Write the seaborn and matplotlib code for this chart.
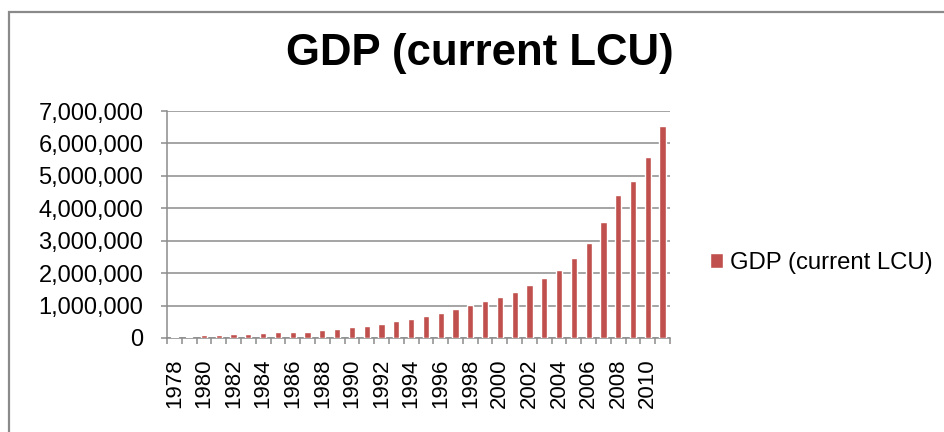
import numpy as np
import pandas as pd
import matplotlib
matplotlib.use("Agg")
import matplotlib.pyplot as plt
import seaborn as sns
from matplotlib.patches import Rectangle
from matplotlib.ticker import FuncFormatter, FixedLocator

# data
years = list(range(1978, 2012))
gdp = [41000, 44000, 82000, 86000, 123000, 125000, 154000, 195000, 198000, 200000,
       236000, 267000, 338000, 380000, 441000, 523000, 590000, 688000, 770000, 903000,
       1006000, 1129000, 1263000, 1417000, 1632000, 1848000, 2094000, 2453000, 2926000,
       3573000, 4404000, 4836000, 5585000, 6530000]
series_name = "GDP (current LCU)"
y_ticks = [0, 1000000, 2000000, 3000000, 4000000, 5000000, 6000000, 7000000]

df = pd.DataFrame({"year": [str(y) for y in years], "gdp": gdp})

sns.set_style("white")
plt.rcParams["font.family"] = ["Liberation Sans", "DejaVu Sans"]
plt.rcParams["text.color"] = "black"
plt.rcParams["xtick.labelcolor"] = "black"
plt.rcParams["ytick.labelcolor"] = "black"

fig = plt.figure(figsize=(9.44, 4.32), dpi=100)
ax = fig.add_axes([167 / 944, 1 - 338 / 432, (670 - 167) / 944, (338 - 111) / 432])

grid_col = "#8c8c8c"
sns.barplot(data=df, x="year", y="gdp", color="#C0504D", width=0.42,
            saturation=1, label=series_name, ax=ax, zorder=3)

ax.set_ylim(0, 7000000)
ax.set_xlim(-0.5, len(years) - 0.5)
ax.set_yticks(y_ticks)
ax.yaxis.set_major_formatter(FuncFormatter(lambda v, p: f"{int(v):,}"))
ax.yaxis.grid(True, color=grid_col, linewidth=1.1, zorder=0)
ax.set_axisbelow(True)

ax.set_xticks(range(0, len(years), 2))
ax.set_xticklabels([str(y) for y in years[::2]], rotation=90)
ax.xaxis.set_minor_locator(FixedLocator(np.arange(-0.5, len(years), 1.0)))

ax.tick_params(axis="y", which="major", length=4, width=1.1, color=grid_col,
               direction="out", pad=13, labelsize=17, left=True, labelcolor="black")
ax.tick_params(axis="x", which="major", length=0, pad=15, labelsize=16,
               labelcolor="black")
ax.tick_params(axis="x", which="minor", length=4, width=1.1, color=grid_col,
               direction="out", bottom=True)

for s in ["top", "right"]:
    ax.spines[s].set_visible(False)
for s in ["left", "bottom"]:
    ax.spines[s].set_color(grid_col)
    ax.spines[s].set_linewidth(1.1)

ax.set_xlabel("")
ax.set_ylabel("")

leg = ax.legend(loc="center left", bbox_to_anchor=(698 / 944, 1 - 263 / 432),
                bbox_transform=fig.transFigure, frameon=False, fontsize=17.2,
                handlelength=0.55, handleheight=0.55, handletextpad=0.3, borderpad=0)
for t in leg.get_texts():
    t.set_color("black")

fig.text(480 / 944, 1 - 65 / 432, series_name, ha="center", va="baseline",
         fontsize=31.5, fontweight="bold", color="black")

# outer chart frame
fig.add_artist(Rectangle((9 / 944, -0.2), 2, 1.2 - 12 / 432, transform=fig.transFigure,
                         fill=False, edgecolor="#8a8a8a", linewidth=1.6))

fig.savefig("out.png", dpi=100)
